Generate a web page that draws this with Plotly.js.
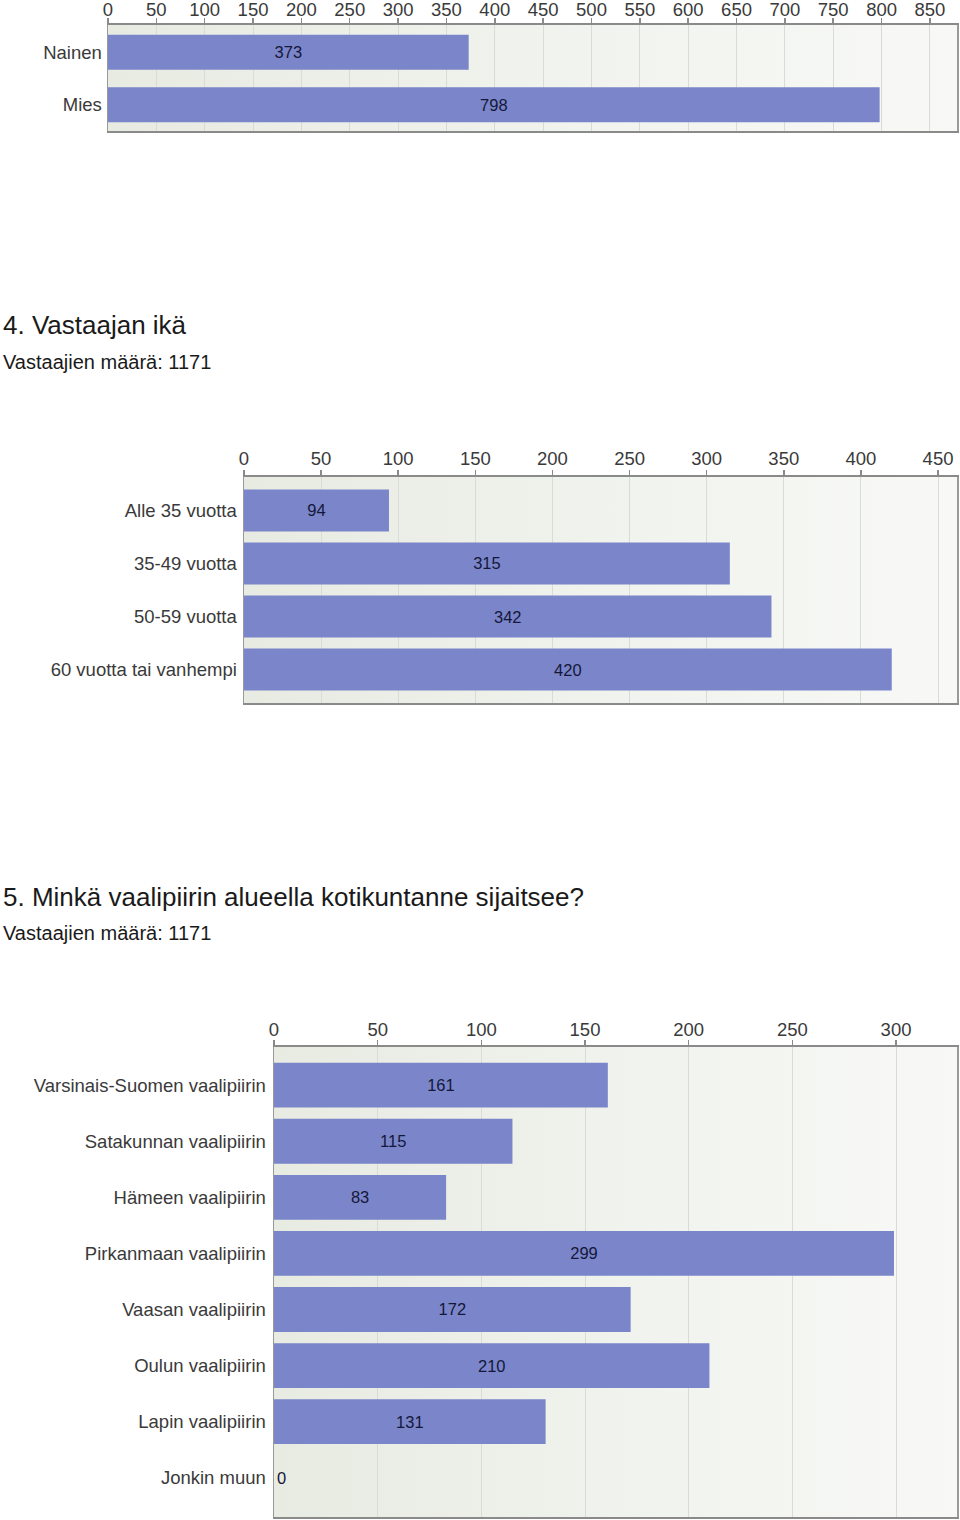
<!DOCTYPE html>
<html>
<head>
<meta charset="utf-8">
<script src="https://cdn.plot.ly/plotly-3.0.1.min.js"></script>
<style>
html,body{margin:0;padding:0;background:#fff;}
#chart{width:960px;height:1520px;}
</style>
</head>
<body>
<div id="chart"></div>
<script>
// ---- Data ----
const genderCats = ['Nainen', 'Mies'];
const genderVals = [373, 798];

const ageTitle = '4. Vastaajan ikä';
const ageSubtitle = 'Vastaajien määrä: 1171';
const ageCats = ['Alle 35 vuotta', '35-49 vuotta', '50-59 vuotta', '60 vuotta tai vanhempi'];
const ageVals = [94, 315, 342, 420];

const regionTitle = '5. Minkä vaalipiirin alueella kotikuntanne sijaitsee?';
const regionSubtitle = 'Vastaajien määrä: 1171';
const regionCats = ['Varsinais-Suomen vaalipiirin', 'Satakunnan vaalipiirin', 'Hämeen vaalipiirin',
  'Pirkanmaan vaalipiirin', 'Vaasan vaalipiirin', 'Oulun vaalipiirin', 'Lapin vaalipiirin', 'Jonkin muun'];
const regionVals = [161, 115, 83, 299, 172, 210, 131, 0];

const genderTicks = [0,50,100,150,200,250,300,350,400,450,500,550,600,650,700,750,800,850];
const ageTicks = [0,50,100,150,200,250,300,350,400,450];
const regionTicks = [0,50,100,150,200,250,300];

// ---- Style ----
const FONT = '"Liberation Sans", Arial, Helvetica, sans-serif';
const BAR = '#7a86c9';
const H = 1520, W = 960;
const py = v => 1 - v / H;
const px = v => v / W;

const bgSvg = "<svg xmlns='http://www.w3.org/2000/svg' width='100' height='100' preserveAspectRatio='none'>" +
  "<defs><linearGradient id='g' x1='0' y1='0' x2='1' y2='0'>" +
  "<stop offset='0' stop-color='#e8ebe2'/><stop offset='0.55' stop-color='#f1f3ee'/><stop offset='1' stop-color='#f8f9f6'/>" +
  "</linearGradient></defs><rect width='100' height='100' fill='url(#g)'/></svg>";
const bgURI = 'data:image/svg+xml;charset=utf-8,' + encodeURIComponent(bgSvg);

function barTrace(cats, vals, xa, ya, width) {
  return {
    type: 'bar', orientation: 'h',
    y: cats, x: vals, xaxis: xa, yaxis: ya,
    width: width,
    marker: {color: BAR, line: {width: 0}},
    text: vals.map(String),
    textposition: vals.map(v => v === 0 ? 'outside' : 'inside'),
    insidetextanchor: 'middle',
    textfont: {family: FONT, size: 16.5, color: '#15173a'},
    cliponaxis: false,
    hoverinfo: 'x+y'
  };
}

function xAxis(domain, yAnchor, max, ticks, standoff) {
  return {
    domain: domain, anchor: yAnchor, side: 'top',
    range: [0, max], tickvals: ticks, ticktext: ticks.map(String),
    showgrid: true, gridcolor: '#d9dbd6', gridwidth: 1,
    showline: true, linecolor: '#8a8a8a', linewidth: 2, mirror: true,
    ticks: 'outside', ticklen: 5, tickcolor: '#8a8a8a', tickwidth: 1.5,
    ticklabelstandoff: standoff,
    tickfont: {family: FONT, size: 18.5, color: '#3a3a3a'},
    zeroline: false, fixedrange: true
  };
}

function yAxis(domain, xAnchor, range, standoff) {
  return {
    domain: domain, anchor: xAnchor, type: 'category',
    range: range,
    showgrid: false, showline: true, linecolor: '#9a9a9a', linewidth: 1.5, mirror: true,
    ticks: '', ticklabelstandoff: standoff,
    tickfont: {family: FONT, size: 18.5, color: '#3a3a3a'},
    zeroline: false, fixedrange: true
  };
}

const data = [
  barTrace(genderCats, genderVals, 'x', 'y', 0.67),
  barTrace(ageCats, ageVals, 'x2', 'y2', 0.79),
  barTrace(regionCats, regionVals, 'x3', 'y3', 0.8)
];

function ann(text, x, y, size) {
  return {
    text: text, xref: 'paper', yref: 'paper', x: px(x), y: py(y),
    xanchor: 'left', yanchor: 'middle', showarrow: false,
    font: {family: FONT, size: size, color: '#1a1a1a'}
  };
}

function bgImage(xr, yr) {
  return {
    source: bgURI, xref: xr + ' domain', yref: yr + ' domain',
    x: 0, y: 1, sizex: 1, sizey: 1, xanchor: 'left', yanchor: 'top',
    sizing: 'stretch', layer: 'below'
  };
}

const layout = {
  width: W, height: H,
  margin: {l: 0, r: 0, t: 0, b: 0},
  paper_bgcolor: '#ffffff',
  plot_bgcolor: '#f0f2ec',
  showlegend: false,
  font: {family: FONT},
  xaxis: xAxis([px(108), px(957)], 'y', 878, genderTicks, -5),
  yaxis: yAxis([py(131), py(25)], 'x', [1.5, -0.52], 1),
  xaxis2: xAxis([px(244), px(957)], 'y2', 462.3, ageTicks, -2),
  yaxis2: yAxis([py(703), py(477)], 'x2', [3.63, -0.63], 2),
  xaxis3: xAxis([px(274), px(957)], 'y3', 329.4, regionTicks, -3),
  yaxis3: yAxis([py(1517), py(1047)], 'x3', [7.7, -0.68], 3),
  images: [bgImage('x', 'y'), bgImage('x2', 'y2'), bgImage('x3', 'y3')],
  annotations: [
    ann(ageTitle, 1, 325, 26),
    ann(ageSubtitle, 1, 362, 20),
    ann(regionTitle, 1, 897, 26),
    ann(regionSubtitle, 1, 933, 20)
  ]
};

Plotly.newPlot('chart', data, layout, {displayModeBar: false, staticPlot: true});
</script>
</body>
</html>
